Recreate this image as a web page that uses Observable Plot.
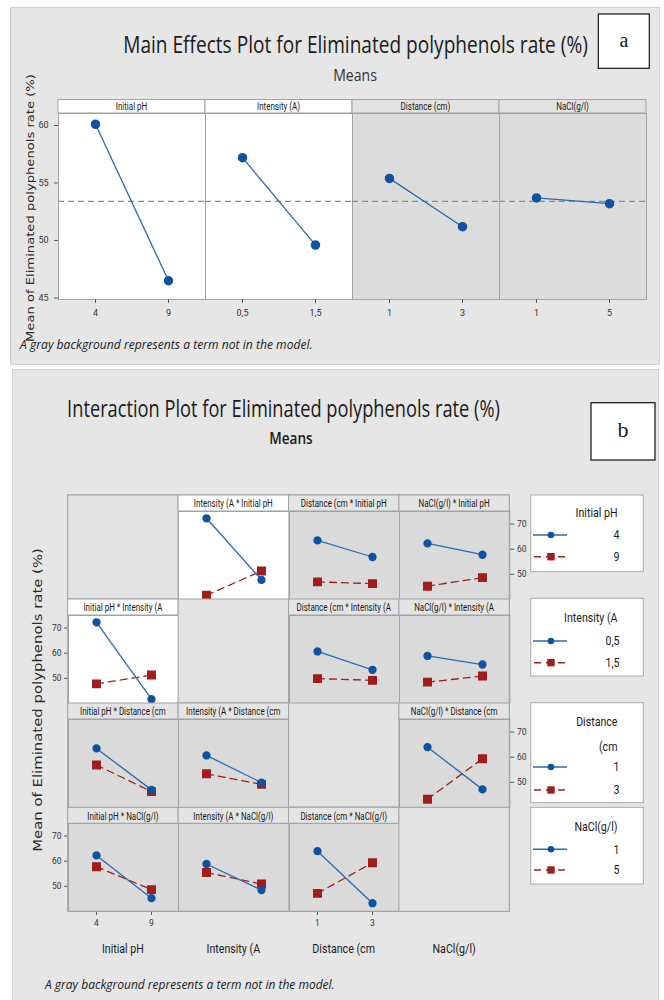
<!DOCTYPE html>
<html><head><meta charset="utf-8">
<script src="https://cdn.jsdelivr.net/npm/d3@7"></script>
<script src="https://cdn.jsdelivr.net/npm/@observablehq/plot@0.6"></script>
<style>
body{margin:0;background:#fff;}
#root{position:relative;width:664px;height:1000px;overflow:hidden;}
.sec{position:absolute;background:#e6e6e6;border:1px solid #d0d0d0;box-sizing:border-box;}
.abs{position:absolute;}
svg.ov{position:absolute;left:0;top:0;overflow:visible;}
</style></head><body><div id="root"></div>
<script>
// ---------- data ----------
const mainTitle = "Main Effects Plot for Eliminated polyphenols rate (%)";
const interTitle = "Interaction Plot for Eliminated polyphenols rate (%)";
const subTitle = "Means";
const yTitle = "Mean of Eliminated polyphenols rate (%)";
const footnote = "A gray background represents a term not in the model.";
const factorNames = ["Initial pH", "Intensity (A)", "Distance (cm)", "NaCl(g/l)"];
const factorShort = ["Initial pH", "Intensity (A", "Distance (cm", "NaCl(g/l)"];
const pHLevels = ["4", "9"];
const intensityLevels = ["0,5", "1,5"];
const distanceLevels = ["1", "3"];
const naclLevels = ["1", "5"];
const mainPH = [60.1, 46.5];
const mainIntensity = [57.2, 49.6];
const mainDistance = [55.4, 51.2];
const mainNaCl = [53.7, 53.2];
const grandMean = 53.4;
const inModel = [true, true, false, false];
const mainTicks = [45, 50, 55, 60];
const interTicks = [50, 60, 70];
// cell means [level of first factor][level of second factor]
const pH_Intensity = [[72.3, 47.8], [41.7, 51.3]];
const pH_Distance = [[63.5, 56.9], [47.0, 46.3]];
const pH_NaCl = [[62.3, 57.8], [45.3, 48.7]];
const Intensity_Distance = [[60.7, 53.4], [49.9, 49.2]];
const Intensity_NaCl = [[58.9, 55.5], [48.5, 50.9]];
const Distance_NaCl = [[64.0, 47.2], [43.3, 59.4]];
const legendTitles = [["Initial pH"], ["Intensity (A"], ["Distance", "(cm"], ["NaCl(g/l)"]];

// ---------- helpers ----------
const factors = [
  {levels: pHLevels, main: mainPH},
  {levels: intensityLevels, main: mainIntensity},
  {levels: distanceLevels, main: mainDistance},
  {levels: naclLevels, main: mainNaCl}
];
const pairTables = {"0-1": pH_Intensity, "0-2": pH_Distance, "0-3": pH_NaCl,
  "1-2": Intensity_Distance, "1-3": Intensity_NaCl, "2-3": Distance_NaCl};
function cell(a, ia, b, ib) {
  return a < b ? pairTables[a + "-" + b][ia][ib] : pairTables[b + "-" + a][ib][ia];
}
const BLUE = "#0f53a0", BLUE_LINE = "#2a6ab2", RED = "#a11c1c";
const GRID = "#a2a2a2";
const SANS = "Roboto, 'Open Sans', sans-serif";
const root = document.getElementById("root");

function sec(l, t, w, h) {
  const d = document.createElement("div");
  d.className = "sec";
  Object.assign(d.style, {left: l + "px", top: t + "px", width: w + "px", height: h + "px"});
  root.appendChild(d);
}
function panel({left, top, w, h, xDomain, yDomain, fill, axes, marks, fs}) {
  const ml = axes.left ? 34 : 0, mr = axes.right ? 26 : 0, mt = axes.top ? 20 : 0, mb = axes.bottom ? 24 : 0;
  const axisMarks = [];
  const common = {fontSize: fs, stroke: "#555", tickSize: 4, label: null};
  if (axes.left) axisMarks.push(Plot.axisY({...common, anchor: "left", ticks: axes.left, tickPadding: axes.lp ?? 3}));
  if (axes.right) axisMarks.push(Plot.axisY({...common, anchor: "right", ticks: axes.right, tickPadding: 3}));
  if (axes.top) axisMarks.push(Plot.axisX({...common, anchor: "top", tickPadding: 3}));
  if (axes.bottom) axisMarks.push(Plot.axisX({...common, anchor: "bottom", tickPadding: axes.bp ?? 3}));
  const svg = Plot.plot({
    width: w + ml + mr, height: h + mt + mb,
    marginLeft: ml, marginRight: mr, marginTop: mt, marginBottom: mb,
    x: {type: "point", domain: xDomain, padding: 0.5, axis: null},
    y: {domain: yDomain, axis: null},
    style: {background: "transparent", fontFamily: SANS, color: "#333", overflow: "visible"},
    marks: [Plot.frame({fill, stroke: GRID}), ...marks, ...axisMarks]
  });
  const d = document.createElement("div");
  d.className = "abs";
  Object.assign(d.style, {left: (left - ml) + "px", top: (top - mt) + "px", width: (w + ml + mr) + "px"});
  d.appendChild(svg);
  root.appendChild(d);
}
function esc(s) { return s.replace(/&/g, "&amp;").replace(/</g, "&lt;"); }
// fit: target width in px; the scale is computed after rendering
function T(x, y, s, o = {}) {
  const {size = 10, anchor = "middle", sx = 1, fam = SANS, weight = 400, style = "normal", fill = "#1a1a1a", rot = 0, fit = null} = o;
  return `<text data-x="${x}" data-y="${y}" data-rot="${rot}" ${fit ? `data-fit="${fit}"` : ""} transform="translate(${x},${y}) rotate(${rot}) scale(${sx},1)" text-anchor="${anchor}" dominant-baseline="central" font-family="${fam}" font-size="${size}" font-weight="${weight}" font-style="${style}" fill="${fill}">${esc(s)}</text>`;
}

// ---------- backgrounds ----------
sec(10, 7, 650, 358);
sec(12, 369, 647, 640);

let ov = "";

// ---------- main effects ----------
const meX = [58, 205, 352, 499], meW = 147, meHT = 99.5, meHH = 13.5, mePT = 113, mePH = 186;
const meDomain = [44.87, 61.04];
factors.forEach((f, k) => {
  const data = f.levels.map((l, i) => ({level: l, mean: f.main[i]}));
  panel({
    left: meX[k], top: mePT, w: meW, h: mePH, xDomain: f.levels, yDomain: meDomain,
    fill: inModel[k] ? "#ffffff" : "#dcdcdc", fs: 9,
    axes: {left: k === 0 ? mainTicks : null, lp: 6, bottom: true, bp: 6},
    marks: [
      Plot.ruleY([grandMean], {stroke: "#8a8a8a", strokeWidth: 1.2, strokeDasharray: "6,4"}),
      Plot.line(data, {x: "level", y: "mean", stroke: BLUE_LINE, strokeWidth: 1.3}),
      Plot.dot(data, {x: "level", y: "mean", r: 4, fill: BLUE, stroke: BLUE})
    ]
  });
  ov += `<rect x="${meX[k]}" y="${meHT}" width="${meW}" height="${meHH}" fill="${inModel[k] ? "#fff" : "#e2e2e2"}" stroke="${GRID}"/>`;
  ov += T(meX[k] + meW / 2, meHT + meHH / 2, factorNames[k], {size: 10, sx: 0.8});
});

// ---------- interaction ----------
const ixL = 67.7, ixW = 110.4, ixTops = [495, 599, 703, 807.3], ixHH = 16, ixPH = 88;
const ixDomain = [40, 75];
ov += `<rect x="${ixL}" y="${ixTops[0]}" width="${ixW * 4}" height="${ixTops[3] + ixHH + ixPH - ixTops[0]}" fill="none" stroke="${GRID}"/>`;
for (let r = 0; r < 4; r++) {
  for (let c = 0; c < 4; c++) {
    const left = ixL + c * ixW, top = ixTops[r];
    if (r === c) {
      ov += `<rect x="${left}" y="${top}" width="${ixW}" height="${ixHH + ixPH}" fill="#e3e3e3" stroke="${GRID}"/>`;
      continue;
    }
    const white = (r < 2 && c < 2);
    const s0 = factors[c].levels.map((l, j) => ({x: l, y: cell(r, 0, c, j)}));
    const s1 = factors[c].levels.map((l, j) => ({x: l, y: cell(r, 1, c, j)}));
    panel({
      left, top: top + ixHH, w: ixW, h: ixPH, xDomain: factors[c].levels, yDomain: ixDomain,
      fill: white ? "#ffffff" : "#dadada", fs: 8.5,
      axes: {
        left: (c === 0 && (r === 1 || r === 3)) ? interTicks : null,
        right: (c === 3 && (r === 0 || r === 2)) ? interTicks : null,
        top: r === 0 && (c === 1 || c === 3),
        bottom: r === 3 && (c === 0 || c === 2), bp: 4
      },
      marks: [
        Plot.line(s1, {x: "x", y: "y", stroke: RED, strokeWidth: 1.3, strokeDasharray: "7,5"}),
        Plot.dot(s1, {x: "x", y: "y", symbol: "square", r: 4.2, fill: RED, stroke: RED}),
        Plot.line(s0, {x: "x", y: "y", stroke: BLUE_LINE, strokeWidth: 1.3}),
        Plot.dot(s0, {x: "x", y: "y", r: 3.4, fill: BLUE, stroke: BLUE})
      ]
    });
    ov += `<rect x="${left}" y="${top}" width="${ixW}" height="${ixHH}" fill="${white ? "#fff" : "#e4e4e4"}" stroke="${GRID}"/>`;
    ov += T(left + ixW / 2, top + ixHH / 2 + 0.5, factorShort[c] + " * " + factorShort[r], {size: 10.5, sx: 0.76});
  }
}
// bottom factor labels
factorShort.forEach((n, c) => { ov += T(ixL + c * ixW + ixW / 2, 949, n, {size: 13, sx: 0.82}); });

// ---------- legend ----------
const lgX0 = 530.7, lgX1 = 643.3;
const lgBoxes = [
  {y0: 495, y1: 571.7, ty: [513], iy: [535, 556.7]},
  {y0: 598.3, y1: 676, ty: [617.7], iy: [641, 662.7]},
  {y0: 702.7, y1: 802.7, ty: [721.7, 746.7], iy: [767, 790]},
  {y0: 807.3, y1: 884, ty: [826.7], iy: [849.3, 870]}
];
lgBoxes.forEach((b, k) => {
  ov += `<rect x="${lgX0}" y="${b.y0}" width="${lgX1 - lgX0}" height="${b.y1 - b.y0}" fill="#fff" stroke="#a8a8a8"/>`;
  legendTitles[k].forEach((t, i) => { ov += T(617.5, b.ty[i], t, {size: 12.5, anchor: "end", sx: 0.85}); });
  factors[k].levels.forEach((l, i) => {
    const y = b.iy[i];
    if (i === 0) {
      ov += `<line x1="533" x2="567" y1="${y}" y2="${y}" stroke="${BLUE_LINE}" stroke-width="1.4"/>`;
      ov += `<circle cx="551" cy="${y}" r="3.3" fill="${BLUE}"/>`;
    } else {
      ov += `<line x1="533" x2="567" y1="${y}" y2="${y}" stroke="${RED}" stroke-width="1.4" stroke-dasharray="7,5" stroke-dashoffset="-1"/>`;
      ov += `<rect x="547.3" y="${y - 3.7}" width="7.4" height="7.4" fill="${RED}"/>`;
    }
    ov += T(619.5, y, l, {size: 12.5, anchor: "end", sx: 0.85});
  });
});

// ---------- titles, notes ----------
const OS = "'Open Sans', sans-serif";
ov += T(355.5, 44, mainTitle, {size: 23, fam: OS, weight: 500, fit: 465});
ov += T(355, 75, subTitle, {size: 16, fam: OS, sx: 0.88, fill: "#333"});
ov += T(283.5, 408, interTitle, {size: 23, fam: OS, weight: 500, fit: 433});
ov += T(291, 438, subTitle, {size: 16, fam: OS, weight: 600, sx: 0.85});
ov += `<rect x="598.3" y="14" width="51" height="54.3" fill="#fff" stroke="#111" stroke-width="1.2"/>`;
ov += T(624, 40, "a", {size: 20, fam: "'Liberation Serif', 'DejaVu Serif', serif"});
ov += `<rect x="591" y="402.7" width="64" height="57.3" fill="#fff" stroke="#111" stroke-width="1.2"/>`;
ov += T(623, 429, "b", {size: 22, fam: "'Liberation Serif', 'DejaVu Serif', serif"});
ov += T(20, 344, footnote, {size: 13, anchor: "start", style: "italic", fam: OS, fit: 293});
ov += T(45, 984, footnote, {size: 13, anchor: "start", style: "italic", fam: OS, fit: 290});
ov += T(30, 208, yTitle, {size: 11, rot: -90, fam: "'DejaVu Sans', sans-serif", fill: "#2a2a2a", fit: 268});
ov += T(37, 700, yTitle, {size: 12.5, rot: -90, fam: "'DejaVu Sans', sans-serif", fill: "#2a2a2a", fit: 304});

const ovSvg = document.createElementNS("http://www.w3.org/2000/svg", "svg");
ovSvg.setAttribute("class", "ov");
ovSvg.setAttribute("width", 664);
ovSvg.setAttribute("height", 1000);
ovSvg.innerHTML = ov;
root.appendChild(ovSvg);
// scale texts that must span a given width
ovSvg.querySelectorAll("text[data-fit]").forEach(t => {
  const natural = t.getComputedTextLength();
  const target = +t.getAttribute("data-fit");
  const s = natural > 0 ? target / natural : 1;
  t.setAttribute("transform", `translate(${t.getAttribute("data-x")},${t.getAttribute("data-y")}) rotate(${t.getAttribute("data-rot")}) scale(${s},1)`);
});
</script></body></html>
